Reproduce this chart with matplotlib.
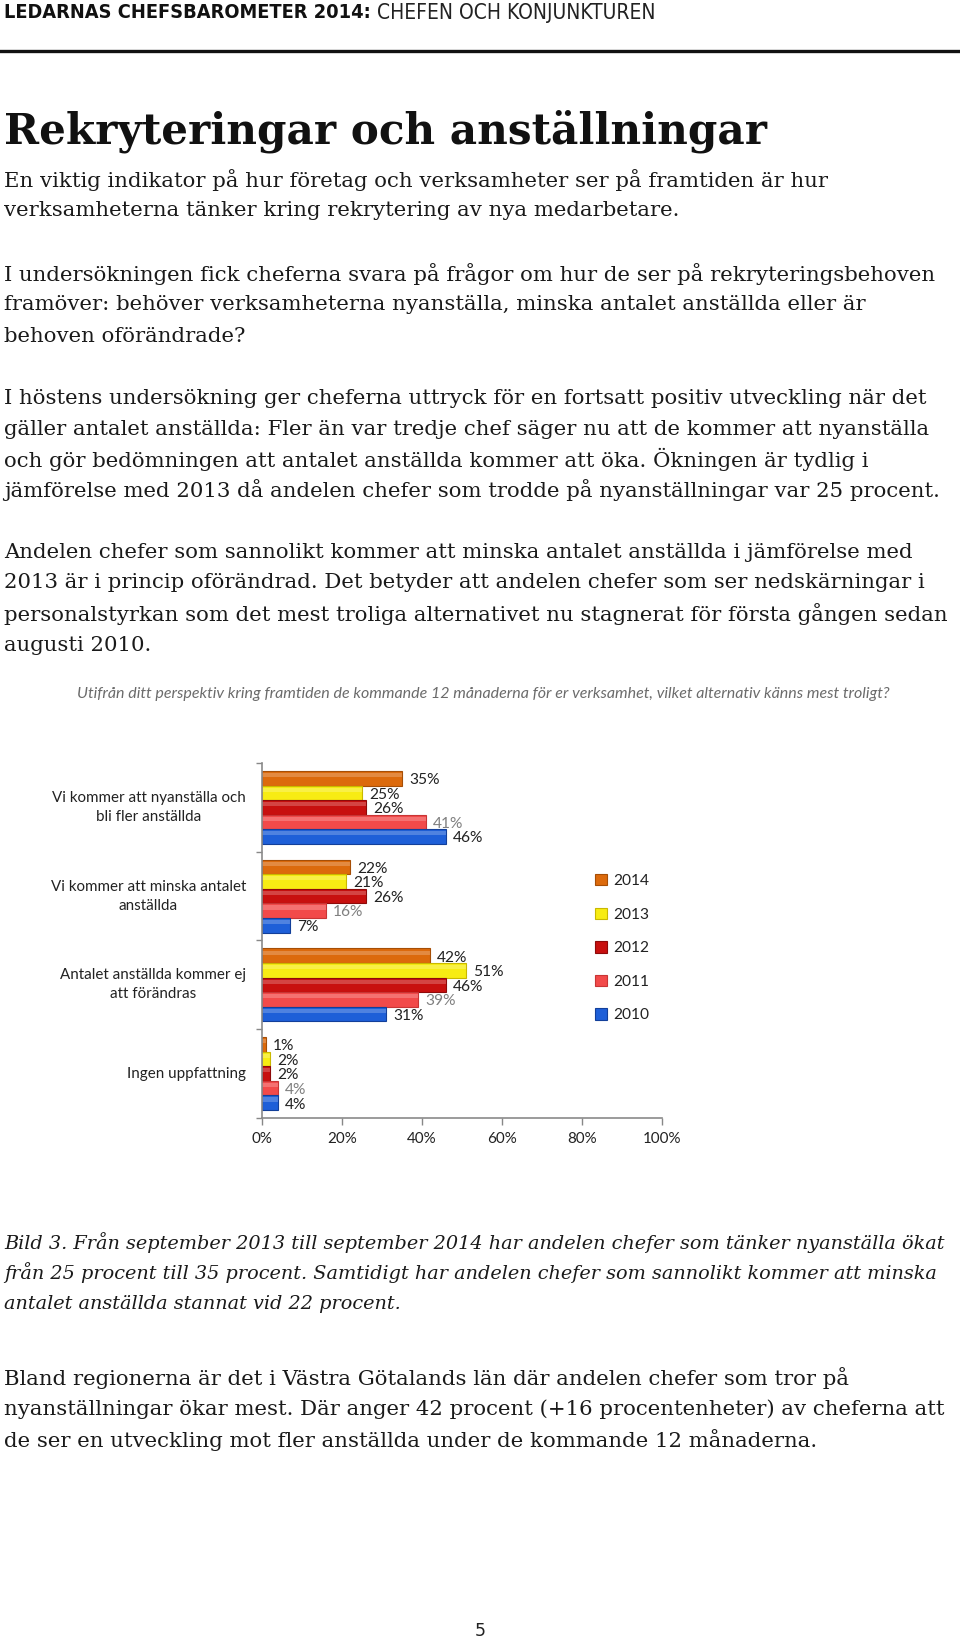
import matplotlib
matplotlib.use("Agg")
import matplotlib.pyplot as plt
import numpy as np

W, H = 960, 1642

# ---------------- data ----------------
categories = [
    "Vi kommer att nyanställa och\nbli fler anställda",
    "Vi kommer att minska antalet\nanställda",
    "Antalet anställda kommer ej\natt förändras",
    "Ingen uppfattning",
]
years = ["2014", "2013", "2012", "2011", "2010"]
v2014 = [35, 22, 42, 1]
v2013 = [25, 21, 51, 2]
v2012 = [26, 26, 46, 2]
v2011 = [41, 16, 39, 4]
v2010 = [46, 7, 31, 4]
series = [v2014, v2013, v2012, v2011, v2010]
xticks = [0, 20, 40, 60, 80, 100]
xtick_labels = ["0%", "20%", "40%", "60%", "80%", "100%"]

colors = ["#DC6A0C", "#F7EC13", "#C8100F", "#F24A4A", "#1E5FD8"]
edge_colors = ["#A64E06", "#C9B800", "#8E0A0A", "#C83535", "#123F9A"]
label_colors = ["#222222", "#222222", "#222222", "#808080", "#222222"]

fig = plt.figure(figsize=(W / 100, H / 100), dpi=100)
fig.patch.set_facecolor("white")


def fx(x):
    return x / W


def fy(y):
    return 1 - y / H


# ---------------- header ----------------
hdr_fs = 14.0
t1 = fig.text(fx(4), fy(13), "LEDARNAS CHEFSBAROMETER 2014:", family="DejaVu Sans",
              fontstretch="condensed", fontweight="bold", fontsize=hdr_fs,
              va="center", ha="left", color="#111111")
fig.canvas.draw()
r = fig.canvas.get_renderer()
bb = t1.get_window_extent(r)
# fit the bold part to the width it takes on the page
t1.set_fontsize(hdr_fs * (372 - 4) / bb.width)
fig.canvas.draw()
bb = t1.get_window_extent(r)
x2 = bb.x1 + 6
t2 = fig.text(x2 / W, fy(13), "CHEFEN OCH KONJUNKTUREN", family="DejaVu Sans",
              fontstretch="condensed", fontsize=t1.get_fontsize(), va="center",
              ha="left", color="#222222")
fig.canvas.draw()
bb2 = t2.get_window_extent(r)
t2.set_fontsize(t2.get_fontsize() * (654 - x2) / bb2.width)
fig.add_artist(plt.Line2D([0, 1], [fy(51), fy(51)], color="#111111", lw=2.4,
                          transform=fig.transFigure))

# ---------------- title ----------------
fig.text(fx(4), fy(131), "Rekryteringar och anställningar", family="DejaVu Serif",
         fontweight="bold", fontsize=30.3, va="center", ha="left", color="#111111")

# ---------------- body text ----------------
body_fs = 15.35
body_lines = [
    (180, "En viktig indikator på hur företag och verksamheter ser på framtiden är hur"),
    (211, "verksamheterna tänker kring rekrytering av nya medarbetare."),
    (274, "I undersökningen fick cheferna svara på frågor om hur de ser på rekryteringsbehoven"),
    (305, "framöver: behöver verksamheterna nyanställa, minska antalet anställda eller är"),
    (336, "behoven oförändrade?"),
    (398, "I höstens undersökning ger cheferna uttryck för en fortsatt positiv utveckling när det"),
    (429, "gäller antalet anställda: Fler än var tredje chef säger nu att de kommer att nyanställa"),
    (459, "och gör bedömningen att antalet anställda kommer att öka. Ökningen är tydlig i"),
    (490, "jämförelse med 2013 då andelen chefer som trodde på nyanställningar var 25 procent."),
    (553, "Andelen chefer som sannolikt kommer att minska antalet anställda i jämförelse med"),
    (583, "2013 är i princip oförändrad. Det betyder att andelen chefer som ser nedskärningar i"),
    (614, "personalstyrkan som det mest troliga alternativet nu stagnerat för första gången sedan"),
    (645, "augusti 2010."),
    (1378, "Bland regionerna är det i Västra Götalands län där andelen chefer som tror på"),
    (1409, "nyanställningar ökar mest. Där anger 42 procent (+16 procentenheter) av cheferna att"),
    (1440, "de ser en utveckling mot fler anställda under de kommande 12 månaderna."),
]
for y, s in body_lines:
    fig.text(fx(4), fy(y), s, family="DejaVu Serif", fontsize=body_fs,
             va="center", ha="left", color="#1a1a1a")

caption_lines = [
    (1243, "Bild 3. Från september 2013 till september 2014 har andelen chefer som tänker nyanställa ökat"),
    (1273, "från 25 procent till 35 procent. Samtidigt har andelen chefer som sannolikt kommer att minska"),
    (1304, "antalet anställda stannat vid 22 procent."),
]
for y, s in caption_lines:
    fig.text(fx(4), fy(y), s, family="DejaVu Serif", fontsize=13.85, style="italic",
             va="center", ha="left", color="#1a1a1a")

fig.text(fx(480), fy(1631), "5", family="DejaVu Sans", fontsize=12.5,
         va="center", ha="center", color="#222222")

# ---------------- chart ----------------
chart_fam = ["Lato", "DejaVu Sans"]
fig.text(fx(483), fy(694),
         "Utifrån ditt perspektiv kring framtiden de kommande 12 månaderna för er verksamhet, vilket alternativ känns mest troligt?",
         family=chart_fam, style="italic", fontsize=11.5, color="#6b6b6b",
         va="center", ha="center")

ax_left, ax_right = 262, 662
ax_top, ax_bot = 763, 1118
ax = fig.add_axes([fx(ax_left), fy(ax_bot), (ax_right - ax_left) / W, (ax_bot - ax_top) / H])
ax.set_facecolor("none")

ypos = np.arange(len(categories))
bh = 0.164
offsets = [-2, -1, 0, 1, 2]
bar_handles = []
for i, (vals, c, ec) in enumerate(zip(series, colors, edge_colors)):
    yy = ypos + offsets[i] * bh
    bars = ax.barh(yy, vals, height=bh, color=c, edgecolor=ec, linewidth=0.8, label=years[i])
    bar_handles.append(bars)
    # highlight strip to imitate the glossy 3D bar
    ax.barh(yy - bh * 0.22, vals, height=bh * 0.28, color="white", alpha=0.22, linewidth=0)
    for yv, v in zip(yy, vals):
        ax.text(v + 1.8, yv + 0.02, f"{v}%", family=chart_fam, fontsize=11.2,
                color=label_colors[i], va="center", ha="left")

ax.set_xlim(0, 100)
ax.set_ylim(3.5, -0.5)
ax.set_xticks(xticks)
ax.set_xticklabels(xtick_labels, family=chart_fam, fontsize=10.9, color="#222222")
ax.set_yticks([-0.5, 0.5, 1.5, 2.5, 3.5])
ax.set_yticklabels([])
ax.tick_params(axis="y", direction="out", length=4, color="#888888", width=1)
ax.tick_params(axis="x", direction="out", length=5, color="#888888", width=1, pad=5)
for side in ["top", "right"]:
    ax.spines[side].set_visible(False)
for side in ["left", "bottom"]:
    ax.spines[side].set_color("#8a8a8a")
    ax.spines[side].set_linewidth(1.2)

for yv, cat in zip(ypos, categories):
    ax.text(-4.0, yv, cat, family=chart_fam, fontsize=10.9, color="#222222",
            ha="right", va="center", multialignment="center", linespacing=1.45)

leg = fig.legend(handles=bar_handles, labels=years, loc="upper left",
                 bbox_to_anchor=(fx(595), fy(874)), frameon=False,
                 prop={"family": "Lato", "size": 11.2}, handlelength=0.75,
                 handleheight=0.75, handletextpad=0.4, labelspacing=1.25,
                 borderaxespad=0, borderpad=0)
for t in leg.get_texts():
    t.set_color("#222222")

fig.savefig("out.png", dpi=100, facecolor="white")
